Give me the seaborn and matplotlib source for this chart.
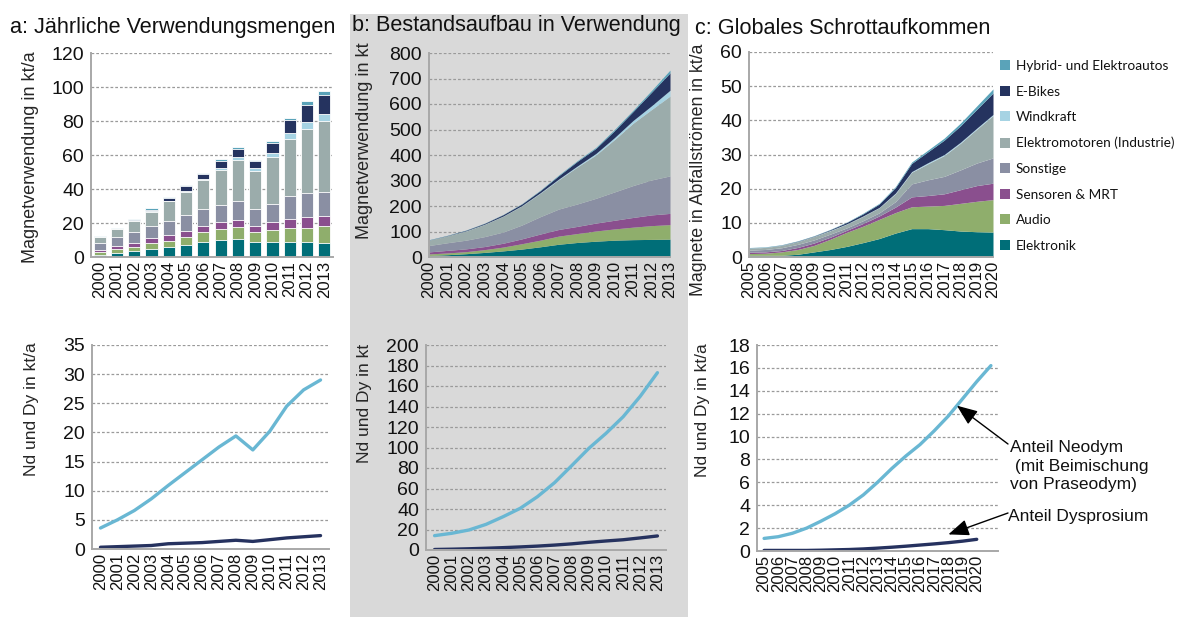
import numpy as np
import pandas as pd
import matplotlib
matplotlib.use("Agg")
import matplotlib.pyplot as plt
import seaborn as sns
from matplotlib.patches import Patch, Rectangle

# ---------------- data ----------------
series_names = ["Elektronik", "Audio", "Sensoren & MRT", "Sonstige",
                "Elektromotoren (Industrie)", "Windkraft", "E-Bikes",
                "Hybrid- und Elektroautos"]
series_colors = ["#006e78", "#8fae6c", "#8a4f8e", "#8a8fa3",
                 "#9bacab", "#a6d3e3", "#25335f", "#5aa3b9"]

years_a = list(range(2000, 2014))
# a: annual magnet use (kt/a)
a_elektronik = [1.2, 2.4, 3.3, 4.7, 5.9, 6.9, 8.8, 10.2, 10.6, 8.7, 8.9, 8.7, 8.7, 8.3]
a_audio      = [1.5, 2.1, 2.8, 3.5, 3.7, 4.7, 5.9, 6.3, 6.9, 6.1, 7.2, 8.4, 8.6, 10.0]
a_sensoren   = [1.4, 1.8, 2.3, 3.0, 3.1, 3.5, 3.3, 4.2, 4.2, 3.5, 4.6, 5.5, 6.3, 6.1]
a_sonstige   = [4.1, 5.5, 6.3, 7.0, 8.7, 9.8, 10.0, 10.0, 11.4, 9.7, 10.6, 13.4, 14.0, 13.8]
a_motoren    = [3.4, 4.5, 6.5, 8.3, 11.3, 13.5, 17.3, 20.7, 24.2, 22.8, 27.7, 33.7, 37.6, 41.9]
a_wind       = [0.2, 0.2, 0.2, 0.4, 0.3, 0.4, 0.4, 1.2, 1.6, 1.4, 2.2, 3.1, 4.1, 4.3]
a_ebikes     = [0.0, 0.1, 0.4, 0.9, 1.7, 3.2, 3.1, 4.1, 4.9, 4.1, 5.7, 7.7, 10.1, 10.7]
a_hybrid     = [0.4, 0.3, 0.4, 0.8, 0.6, 0.4, 0.8, 0.8, 1.0, 0.6, 1.2, 1.2, 2.1, 2.7]

# b: in-use stock (kt)
b_elektronik = [6, 9, 13, 18, 24, 31, 40, 50, 57, 62, 66, 68, 69, 70]
b_audio      = [6, 7, 8, 11, 15, 21, 26, 32, 35, 40, 44, 49, 54, 57]
b_sensoren   = [8, 10, 11, 12, 15, 19, 24, 26, 28, 31, 34, 38, 42, 44]
b_sonstige   = [25, 30, 34, 39, 44, 54, 68, 80, 88, 97, 111, 125, 137, 147]
b_motoren    = [21, 27, 36, 48, 62, 75, 92, 115, 145, 170, 205, 244, 276, 313]
b_wind       = [0.5, 0.5, 1, 1, 1, 1.5, 2, 3, 4, 6, 8, 11, 15, 23]
b_ebikes     = [0.5, 1, 2, 3, 5, 6, 8, 13, 18, 20, 27, 35, 53, 68]
b_hybrid     = [1, 1, 1, 1, 1, 1.5, 2, 3, 3, 4, 5, 5, 7, 11]

years_c = list(range(2005, 2021))
# c: global scrap (kt/a)
c_elektronik = [0.5, 0.5, 0.5, 0.8, 1.5, 2.2, 3.1, 4.2, 5.4, 7.0, 8.3, 8.3, 8.0, 7.6, 7.4, 7.3]
c_audio      = [0.5, 0.6, 1.0, 1.4, 1.9, 3.0, 4.1, 4.8, 5.6, 6.0, 6.4, 6.6, 7.1, 8.1, 8.9, 9.5]
c_sensoren   = [0.4, 0.4, 0.4, 0.6, 0.7, 0.6, 0.6, 0.8, 1.0, 1.6, 2.9, 3.1, 3.4, 4.0, 4.6, 4.8]
c_sonstige   = [0.6, 0.7, 0.8, 0.9, 0.9, 0.9, 0.7, 0.8, 0.9, 1.6, 3.8, 4.6, 5.1, 5.8, 6.6, 7.4]
c_motoren    = [0.6, 0.6, 0.7, 0.8, 1.0, 1.0, 1.1, 1.3, 1.5, 2.3, 3.4, 4.7, 6.1, 7.8, 9.9, 12.4]
c_wind       = [0.05, 0.05, 0.05, 0.05, 0.05, 0.1, 0.1, 0.1, 0.1, 0.2, 0.2, 0.3, 0.3, 0.3, 0.3, 0.3]
c_ebikes     = [0.02, 0.02, 0.05, 0.1, 0.1, 0.2, 0.4, 0.6, 1.0, 1.6, 2.4, 3.2, 4.2, 4.8, 5.5, 6.3]
c_hybrid     = [0.1, 0.1, 0.1, 0.1, 0.1, 0.1, 0.1, 0.2, 0.2, 0.3, 0.4, 0.5, 0.6, 0.8, 1.0, 1.2]

# bottom row: Nd and Dy content
a_nd = [3.6, 5.0, 6.6, 8.6, 10.9, 13.1, 15.3, 17.5, 19.4, 17.0, 20.2, 24.5, 27.3, 29.0]
a_dy = [0.3, 0.4, 0.5, 0.6, 0.9, 1.0, 1.1, 1.3, 1.5, 1.3, 1.6, 1.9, 2.1, 2.3]
b_nd = [14, 16.3, 19.5, 25, 32.5, 40.7, 52, 65.7, 82.3, 99.2, 113.8, 130, 150, 173]
b_dy = [0.5, 0.8, 1.2, 1.7, 2.3, 3.0, 3.8, 4.8, 6.0, 7.5, 8.8, 10.0, 11.8, 13.7]
years_c_nd = list(range(2005, 2022))
c_nd = [1.1, 1.25, 1.55, 2.0, 2.6, 3.25, 4.0, 4.9, 6.0, 7.2, 8.3, 9.3, 10.5, 11.8, 13.3, 14.8, 16.2]
c_dy = [0.05, 0.05, 0.05, 0.05, 0.07, 0.1, 0.13, 0.18, 0.25, 0.33, 0.42, 0.52, 0.62, 0.73, 0.86, 1.02]

titles = ["a: Jährliche Verwendungsmengen", "b: Bestandsaufbau in Verwendung",
          "c: Globales Schrottaufkommen"]
ylabels_top = ["Magnetverwendung in kt/a", "Magnetverwendung in kt",
               "Magnete in Abfallströmen in kt/a"]
ylabels_bot = ["Nd und Dy in kt/a", "Nd und Dy in kt", "Nd und Dy in kt/a"]
nd_label = "Anteil Neodym\n (mit Beimischung\nvon Praseodym)"
dy_label = "Anteil Dysprosium"

nd_color = "#69b7d3"
dy_color = "#26325f"

# ---------------- style ----------------
sns.set_style("white")
plt.rcParams["font.family"] = ["Liberation Sans", "DejaVu Sans"]
plt.rcParams["text.color"] = "#111111"
plt.rcParams["xtick.color"] = "#111111"
plt.rcParams["ytick.color"] = "#111111"

W, H = 1177, 617
fig = plt.figure(figsize=(W / 100, H / 100), dpi=100)

def px_axes(l, t, r, b):
    return fig.add_axes([l / W, 1 - b / H, (r - l) / W, (b - t) / H])

# gray background behind panel b column
fig.add_artist(Rectangle((350 / W, 0), 338 / W, (H - 14) / H,
                         transform=fig.transFigure, facecolor="#d9d9d9",
                         edgecolor="none", zorder=-5))

ax_a = px_axes(91, 53, 333, 257)
ax_b = px_axes(429, 53, 670, 257)
ax_c = px_axes(749, 52, 993, 257)
ax_d = px_axes(92, 345, 329, 549)
ax_e = px_axes(426, 345, 666, 550)
ax_f = px_axes(757, 345, 998, 551)

GRID = dict(color="#9a9a9a", linestyle=(0, (2.2, 1.6)), linewidth=0.9)

def style(ax, ymax, ystep, ytick_fs=14):
    ax.set_ylim(0, ymax)
    ax.set_yticks(np.arange(0, ymax + ystep / 2, ystep))
    ax.yaxis.grid(True, **GRID)
    ax.xaxis.grid(False)
    ax.set_axisbelow(True)
    for s in ["top", "right"]:
        ax.spines[s].set_visible(False)
    for s in ["left", "bottom"]:
        ax.spines[s].set_color("#a8a8a8")
        ax.spines[s].set_linewidth(1.4)
    ax.tick_params(axis="y", length=0, pad=5, labelsize=ytick_fs)
    ax.tick_params(axis="x", length=0, pad=3, labelsize=12, rotation=90)
    ax.set_xlabel("")

# ---- a: stacked bars ----
a_layers = [a_elektronik, a_audio, a_sensoren, a_sonstige, a_motoren,
            a_wind, a_ebikes, a_hybrid]
a_cum = np.cumsum(np.array(a_layers), axis=0)
for k in range(len(a_layers) - 1, -1, -1):
    sns.barplot(x=years_a, y=a_cum[k], color=series_colors[k], saturation=1,
                width=0.7, edgecolor="white", linewidth=0.6, ax=ax_a)
style(ax_a, 120, 20)
ax_a.set_xlim(-0.5, len(years_a) - 0.5)
ax_a.set_xticks(range(len(years_a)))
ax_a.set_xticklabels([str(y) for y in years_a], rotation=90)

# ---- b: stacked area ----
b_layers = [b_elektronik, b_audio, b_sensoren, b_sonstige, b_motoren,
            b_wind, b_ebikes, b_hybrid]
ax_b.set_facecolor("none")
ax_b.stackplot(years_a, *b_layers, colors=series_colors, linewidth=0)
style(ax_b, 800, 100)
ax_b.set_xlim(years_a[0], years_a[-1])
ax_b.set_xticks(years_a)
ax_b.set_xticklabels([str(y) for y in years_a], rotation=90)

# ---- c: stacked area ----
c_layers = [c_elektronik, c_audio, c_sensoren, c_sonstige, c_motoren,
            c_wind, c_ebikes, c_hybrid]
ax_c.stackplot(years_c, *c_layers, colors=series_colors, linewidth=0)
style(ax_c, 60, 10)
ax_c.set_xlim(years_c[0], years_c[-1])
ax_c.set_xticks(years_c)
ax_c.set_xticklabels([str(y) for y in years_c], rotation=90)

handles = [Patch(facecolor=series_colors[k], edgecolor="none")
           for k in range(len(series_names) - 1, -1, -1)]
labels = series_names[::-1]
fig.legend(handles, labels, loc="upper left",
           bbox_to_anchor=(1000 / W, 1 - 60 / H), frameon=False,
           prop={"family": "Lato", "size": 9.8}, handlelength=0.75,
           handleheight=0.75, handletextpad=0.4, labelspacing=1.0,
           borderpad=0, borderaxespad=0)

# ---- bottom row lines ----
LW = 2.4
sns.lineplot(x=years_a, y=a_nd, color=nd_color, linewidth=LW, ax=ax_d)
sns.lineplot(x=years_a, y=a_dy, color=dy_color, linewidth=LW, ax=ax_d)
style(ax_d, 35, 5)
ax_d.set_xlim(years_a[0] - 0.5, years_a[-1] + 0.5)
ax_d.set_xticks(years_a)
ax_d.set_xticklabels([str(y) for y in years_a], rotation=90)

ax_e.set_facecolor("none")
sns.lineplot(x=years_a, y=b_nd, color=nd_color, linewidth=LW, ax=ax_e)
sns.lineplot(x=years_a, y=b_dy, color=dy_color, linewidth=LW, ax=ax_e)
style(ax_e, 200, 20)
ax_e.set_xlim(years_a[0] - 0.5, years_a[-1] + 0.5)
ax_e.set_xticks(years_a)
ax_e.set_xticklabels([str(y) for y in years_a], rotation=90)

sns.lineplot(x=years_c_nd, y=c_nd, color=nd_color, linewidth=LW, ax=ax_f)
sns.lineplot(x=years_c, y=c_dy, color=dy_color, linewidth=LW, ax=ax_f)
style(ax_f, 18, 2)
ax_f.set_xlim(years_c[0] - 0.5, years_c_nd[-1] + 0.5)
ax_f.set_xticks(years_c)
ax_f.set_xticklabels([str(y) for y in years_c], rotation=90)

# annotations
arrow = dict(arrowstyle="-|>,head_length=0.9,head_width=0.36", color="black",
             lw=1.0, mutation_scale=14, shrinkA=0, shrinkB=0)
nd_x = 2018.6
ax_f.annotate("", xy=(nd_x, np.interp(nd_x, years_c_nd, c_nd)),
              xytext=(1008, H - 444), textcoords="figure pixels",
              arrowprops=arrow)
ax_f.annotate("", xy=(2018.0, 1.45), xytext=(1008, H - 513),
              textcoords="figure pixels", arrowprops=arrow)
fig.text(1010 / W, 1 - 466 / H, nd_label, fontsize=12.5, va="center",
         ha="left", linespacing=1.3)
fig.text(1008 / W, 1 - 517 / H, dy_label, fontsize=12.5, va="center", ha="left")

# titles
for (x, y), t in zip([(10, 27), (352, 26), (695, 28)], titles):
    fig.text(x / W, 1 - y / H, t, fontsize=15.6, va="center", ha="left")

# y labels
for ax, lab, (lx, ly), fs in zip(
        [ax_a, ax_b, ax_c], ylabels_top,
        [(-0.248, 0.49), (-0.266, 0.57), (-0.205, 0.425)], [13, 13, 12.8]):
    ax.set_ylabel(lab, fontsize=fs, va="center")
    ax.yaxis.set_label_coords(lx, ly)
for ax, lab, (lx, ly) in zip(
        [ax_d, ax_e, ax_f], ylabels_bot,
        [(-0.257, 0.686), (-0.258, 0.717), (-0.228, 0.684)]):
    ax.set_ylabel(lab, fontsize=12.5, va="center")
    ax.yaxis.set_label_coords(lx, ly)

fig.savefig("out.png", dpi=100)
